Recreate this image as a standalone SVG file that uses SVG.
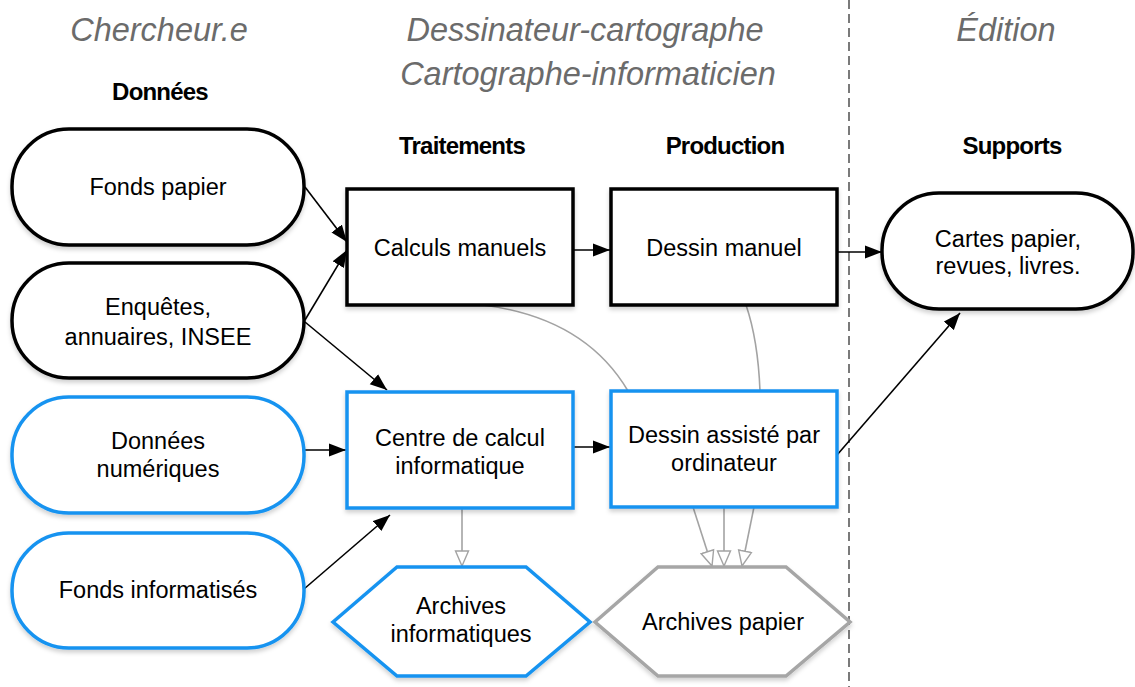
<svg xmlns="http://www.w3.org/2000/svg" width="1135" height="687" viewBox="0 0 1135 687">
<style>
.title{font-family:"Liberation Sans",Arial,sans-serif;font-style:italic;font-size:32.5px;fill:#6b6b6b;text-anchor:middle}
.head{font-family:"Liberation Sans",Arial,sans-serif;font-weight:bold;font-size:24px;letter-spacing:-0.8px;fill:#000;text-anchor:middle}
.lbl{font-family:"Liberation Sans",Arial,sans-serif;font-size:23.5px;fill:#000;text-anchor:middle}
.blk{fill:#fff;stroke:#000;stroke-width:3.5}
.blu{fill:#fff;stroke:#1793f0;stroke-width:3.5}
.gry{fill:#fff;stroke:#a6a6a6;stroke-width:3.5}
.con{fill:none;stroke:#000;stroke-width:1.6}
.gcon{fill:none;stroke:#a3a3a3;stroke-width:1.6}
</style>
<defs>
<filter id="sh" x="-10%" y="-10%" width="120%" height="130%">
<feDropShadow dx="0" dy="3" stdDeviation="2" flood-color="#000" flood-opacity="0.18"/>
</filter>
<marker id="ah" markerUnits="userSpaceOnUse" markerWidth="18" markerHeight="14" refX="17" refY="7" orient="auto">
<path d="M0,0.5 L17,7 L0,13.5 z" fill="#000"/>
</marker>
<marker id="oh" markerUnits="userSpaceOnUse" markerWidth="18" markerHeight="16" refX="16" refY="8" orient="auto">
<path d="M1,1.5 L16,8 L1,14.5 z" fill="#fff" stroke="#a3a3a3" stroke-width="1.4"/>
</marker>
</defs>
<rect width="1135" height="687" fill="#fff"/>

<line x1="849" y1="0" x2="849" y2="687" stroke="#7a7a7a" stroke-width="2" stroke-dasharray="9 5"/>

<g id="titles">
<text class="title" x="159" y="41">Chercheur.e</text>
<text class="title" x="585" y="41">Dessinateur-cartographe</text>
<text class="title" x="588" y="85">Cartographe-informaticien</text>
<text class="title" x="1006" y="41">Édition</text>
<text class="head" x="160" y="100">Données</text>
<text class="head" x="462" y="154">Traitements</text>
<text class="head" x="725" y="154">Production</text>
<text class="head" x="1012" y="154">Supports</text>
</g>

<g id="connectors">
<line class="con" x1="305" y1="187" x2="347" y2="242" marker-end="url(#ah)"/>
<line class="con" x1="305" y1="320" x2="347" y2="250" marker-end="url(#ah)"/>
<line class="con" x1="305" y1="322" x2="387" y2="390" marker-end="url(#ah)"/>
<line class="con" x1="304" y1="450" x2="346" y2="450" marker-end="url(#ah)"/>
<line class="con" x1="304" y1="589" x2="390" y2="515" marker-end="url(#ah)"/>
<line class="con" x1="573" y1="250" x2="610" y2="250" marker-end="url(#ah)"/>
<line class="con" x1="573" y1="447" x2="610" y2="447" marker-end="url(#ah)"/>
<line class="con" x1="837" y1="252" x2="882" y2="252" marker-end="url(#ah)"/>
<line class="con" x1="837" y1="455" x2="960" y2="313" marker-end="url(#ah)"/>
<path class="gcon" d="M483,305 Q585,318 628,391"/>
<path class="gcon" d="M746,305 Q758,340 760,391"/>
<line class="gcon" x1="462" y1="508" x2="462" y2="566" marker-end="url(#oh)"/>
<line class="gcon" x1="693" y1="507" x2="712" y2="566" marker-end="url(#oh)"/>
<line class="gcon" x1="724" y1="507" x2="724" y2="566" marker-end="url(#oh)"/>
<line class="gcon" x1="754" y1="507" x2="742" y2="566" marker-end="url(#oh)"/>
</g>

<g id="fonds-papier">
<rect class="blk" filter="url(#sh)" x="12" y="129" width="292" height="116" rx="57"/>
<text class="lbl" x="158" y="195">Fonds papier</text>
</g>
<g id="enquetes">
<rect class="blk" filter="url(#sh)" x="12" y="263" width="292" height="115" rx="57"/>
<text class="lbl" x="158" y="315">Enquêtes,</text>
<text class="lbl" x="158" y="345">annuaires, INSEE</text>
</g>
<g id="donnees-numeriques">
<rect class="blu" filter="url(#sh)" x="12" y="397" width="292" height="116" rx="57"/>
<text class="lbl" x="158" y="449">Données</text>
<text class="lbl" x="158" y="477">numériques</text>
</g>
<g id="fonds-informatises">
<rect class="blu" filter="url(#sh)" x="12" y="533" width="292" height="115" rx="57"/>
<text class="lbl" x="158" y="598">Fonds informatisés</text>
</g>

<g id="calculs-manuels">
<rect class="blk" filter="url(#sh)" x="347" y="189" width="226" height="116"/>
<text class="lbl" x="460" y="256">Calculs manuels</text>
</g>
<g id="dessin-manuel">
<rect class="blk" filter="url(#sh)" x="611" y="189" width="226" height="116"/>
<text class="lbl" x="724" y="256">Dessin manuel</text>
</g>
<g id="centre-calcul">
<rect class="blu" filter="url(#sh)" x="347" y="392" width="226" height="116"/>
<text class="lbl" x="460" y="446">Centre de calcul</text>
<text class="lbl" x="460" y="474">informatique</text>
</g>
<g id="dessin-assiste">
<rect class="blu" filter="url(#sh)" x="611" y="391" width="226" height="116"/>
<text class="lbl" x="724" y="443">Dessin assisté par</text>
<text class="lbl" x="724" y="471">ordinateur</text>
</g>

<g id="cartes-papier">
<rect class="blk" filter="url(#sh)" x="882" y="193" width="251" height="116" rx="57"/>
<text class="lbl" x="1008" y="247">Cartes papier,</text>
<text class="lbl" x="1008" y="274">revues, livres.</text>
</g>

<g id="archives-informatiques">
<polygon class="blu" filter="url(#sh)" points="333,622 397,567 526,567 590,622 526,676 397,676"/>
<text class="lbl" x="461" y="614">Archives</text>
<text class="lbl" x="461" y="642">informatiques</text>
</g>
<g id="archives-papier">
<polygon class="gry" filter="url(#sh)" points="595,622 658,567 786,567 850,622 786,676 658,676"/>
<text class="lbl" x="723" y="630">Archives papier</text>
</g>
</svg>
